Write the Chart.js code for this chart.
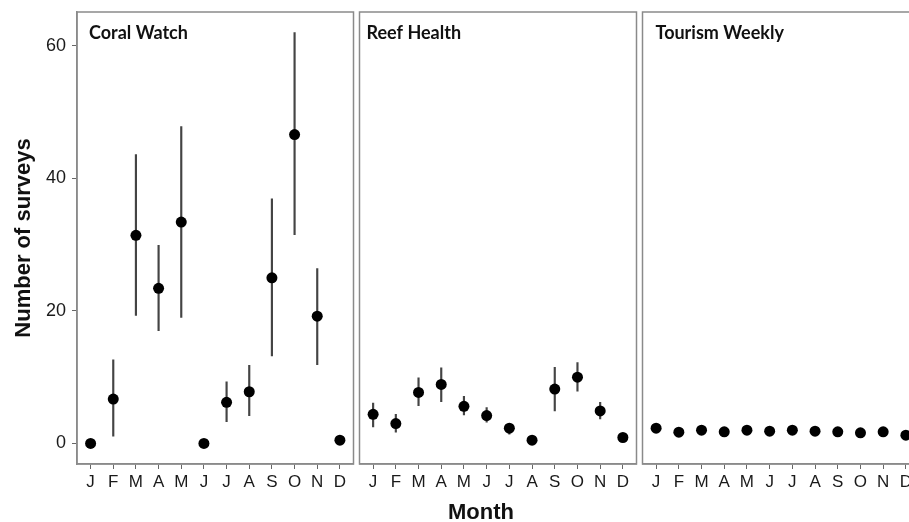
<!DOCTYPE html>
<html>
<head>
<meta charset="utf-8">
<script src="https://cdn.jsdelivr.net/npm/chart.js@4.4.1/dist/chart.umd.min.js"></script>
<style>
  html, body { margin: 0; padding: 0; background: #fff; overflow: hidden; }
  body { width: 909px; height: 522px; position: relative; }
  .panel { position: absolute; top: 0; height: 522px; }
  #xTitle { position: absolute; left: 381px; width: 200px; top: 499px; text-align: center;
            font: bold 22px "Liberation Sans", Arial, sans-serif; color: #111; }
</style>
</head>
<body>
<div class="panel" style="left:0;width:359px"><canvas id="coral"></canvas></div>
<div class="panel" style="left:354px;width:288px"><canvas id="reef"></canvas></div>
<div class="panel" style="left:637px;width:288px"><canvas id="tourism"></canvas></div>
<div id="xTitle">Month</div>
<script>
// months on the x axis
const months = ['J', 'F', 'M', 'A', 'M', 'J', 'J', 'A', 'S', 'O', 'N', 'D'];
const yTicks = [0, 20, 40, 60];

// Coral Watch: mean with lower / upper error bar ends (null = no bar)
const coralMean = [0, 6.7, 31.4, 23.4, 33.4, 0, 6.2, 7.8, 25.0, 46.6, 19.2, 0.5];
const coralLow  = [null, 1.1, 19.3, 17.0, 19.0, null, 3.3, 4.2, 13.2, 31.5, 11.9, null];
const coralHigh = [null, 12.6, 43.6, 29.9, 47.8, null, 9.3, 11.8, 36.9, 62.0, 26.4, null];

// Reef Health
const reefMean = [4.4, 3.0, 7.7, 8.9, 5.6, 4.2, 2.3, 0.5, 8.2, 10.0, 4.9, 0.9];
const reefLow  = [2.5, 1.7, 5.7, 6.3, 4.3, 3.2, 1.4, null, 4.9, 7.9, 3.7, null];
const reefHigh = [6.1, 4.4, 9.9, 11.4, 7.1, 5.4, 2.9, null, 11.5, 12.2, 6.2, null];

// Tourism Weekly (no visible error bars)
const tourMean = [2.3, 1.7, 2.0, 1.75, 2.0, 1.85, 2.0, 1.85, 1.75, 1.6, 1.75, 1.25];
const tourLow  = months.map(() => null);
const tourHigh = months.map(() => null);

const tickFont = { family: '"Liberation Sans", Arial, sans-serif', size: 18 };

// frame round the plot area plus the facet label
const panelFrame = {
  id: 'panelFrame',
  afterDatasetsDraw(chart, args, opts) {
    const { ctx, chartArea: a } = chart;
    ctx.save();
    ctx.strokeStyle = '#8a8a8a';
    ctx.lineWidth = 1.5;
    ctx.strokeRect(a.left, a.top, a.right - a.left, a.bottom - a.top);
    ctx.font = 'bold 18px Lato, "Open Sans", sans-serif';
    ctx.fillStyle = '#111';
    ctx.textBaseline = 'middle';
    ctx.fillText(opts.title, a.left + opts.dx, a.top + 21);
    ctx.restore();
  }
};

function makePanel(id, title, dx, mean, low, high, showY, pad) {
  const points = mean.map((v, i) => ({ x: i + 1, y: v }));
  const bars = [];
  low.forEach((lo, i) => {
    if (lo !== null) bars.push({ x: i + 1, y: [lo, high[i]] });
  });

  new Chart(document.getElementById(id), {
    type: 'bar',
    data: {
      datasets: [
        {
          type: 'scatter',
          data: points,
          pointRadius: 5.5,
          pointBackgroundColor: '#000',
          pointBorderWidth: 0,
          order: 0
        },
        {
          type: 'bar',
          data: bars,
          backgroundColor: '#444',
          barThickness: 1.5,
          order: 1
        }
      ]
    },
    options: {
      responsive: true,
      maintainAspectRatio: false,
      animation: false,
      layout: { padding: { left: pad.left, right: pad.right, top: 12, bottom: 0 } },
      plugins: {
        legend: { display: false },
        tooltip: { enabled: false },
        panelFrame: { title: title, dx: dx }
      },
      scales: {
        x: {
          type: 'linear',
          min: 0.4,
          max: 12.6,
          offset: false,
          afterBuildTicks: s => { s.ticks = months.map((m, i) => ({ value: i + 1 })); },
          afterFit: s => { s.height = 58; s.paddingLeft = 0; s.paddingRight = 0; },
          ticks: {
            autoSkip: false,
            maxRotation: 0,
            padding: 3,
            color: '#1a1a1a',
            font: { family: tickFont.family, size: 17 },
            callback: v => months[v - 1]
          },
          grid: { display: true, offset: false, drawOnChartArea: false, drawTicks: true, tickLength: 5, color: '#666' },
          border: { display: true, color: '#8a8a8a', width: 1.5 }
        },
        y: {
          type: 'linear',
          display: showY,
          min: -3.1,
          max: 65.1,
          afterBuildTicks: s => { s.ticks = yTicks.map(v => ({ value: v })); },
          afterFit: s => {
            if (showY) s.width = 77;
            s.paddingTop = 0;
            s.paddingBottom = 0;
          },
          ticks: { color: '#1a1a1a', font: tickFont, padding: 6 },
          grid: { display: true, drawOnChartArea: false, drawTicks: true, tickLength: 5, color: '#666' },
          border: { display: true, color: '#8a8a8a', width: 1.5 },
          title: {
            display: true,
            text: 'Number of surveys',
            color: '#111',
            font: { family: tickFont.family, size: 22, weight: 'bold' },
            padding: { top: 11, bottom: 0 }
          }
        }
      }
    },
    plugins: [panelFrame]
  });
}

makePanel('coral', 'Coral Watch', 12, coralMean, coralLow, coralHigh, true, { left: 0, right: 0 });
makePanel('reef', 'Reef Health', 7, reefMean, reefLow, reefHigh, false, { left: 0, right: 0 });
makePanel('tourism', 'Tourism Weekly', 13, tourMean, tourLow, tourHigh, false, { left: 0, right: 0 });
</script>
</body>
</html>
